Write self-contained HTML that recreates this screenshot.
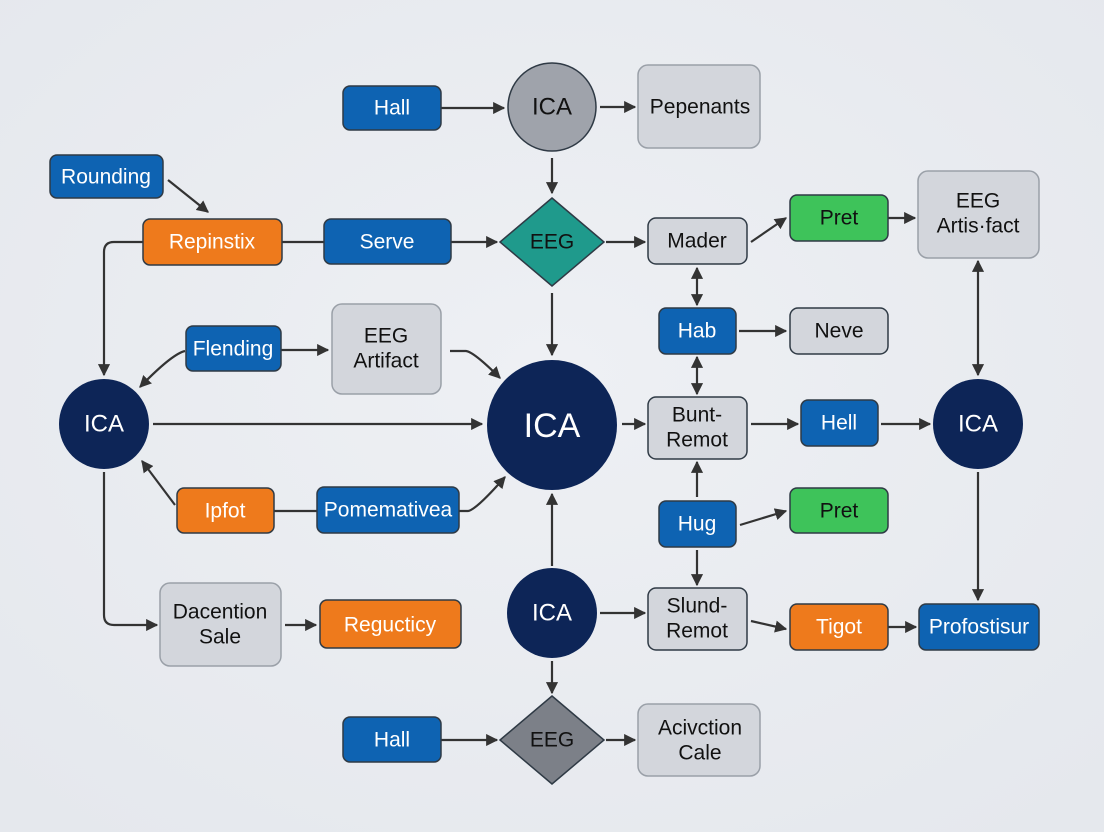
<!DOCTYPE html>
<html><head><meta charset="utf-8"><style>
html,body{margin:0;padding:0;background:#e8ebef;}
svg{display:block}
text{font-family:"Liberation Sans",sans-serif;text-anchor:middle;dominant-baseline:central}
</style></head><body>
<svg width="1104" height="832" viewBox="0 0 1104 832" xmlns="http://www.w3.org/2000/svg">
<defs>
<marker id="a" viewBox="0 0 10 10" refX="9" refY="5" markerWidth="5.5" markerHeight="5.5" orient="auto-start-reverse"><path d="M0,0L10,5L0,10z" fill="#333"/></marker>
<radialGradient id="bg" cx="50%" cy="45%" r="70%"><stop offset="0" stop-color="#eef0f4"/><stop offset="1" stop-color="#e5e8ed"/></radialGradient>
</defs>
<rect width="1104" height="832" fill="url(#bg)"/>
<g stroke="#333" stroke-width="2.2" fill="none">
<line x1="441" y1="108" x2="504" y2="108" marker-end="url(#a)"/>
<line x1="600" y1="107" x2="635" y2="107" marker-end="url(#a)"/>
<line x1="552" y1="158" x2="552" y2="193" marker-end="url(#a)"/>
<line x1="168" y1="180" x2="208" y2="212" marker-end="url(#a)"/>
<line x1="282" y1="242" x2="324" y2="242"/>
<line x1="451" y1="242" x2="497" y2="242" marker-end="url(#a)"/>
<line x1="606" y1="242" x2="645" y2="242" marker-end="url(#a)"/>
<path d="M143,242 H114 Q104,242 104,252 V375" marker-end="url(#a)"/>
<line x1="552" y1="293" x2="552" y2="355" marker-end="url(#a)"/>
<line x1="281" y1="350" x2="328" y2="350" marker-end="url(#a)"/>
<path d="M185,351 Q172,354 140,387" marker-end="url(#a)"/>
<path d="M450,351 H466 Q474,352 500,378" marker-end="url(#a)"/>
<line x1="153" y1="424" x2="482" y2="424" marker-end="url(#a)"/>
<line x1="175" y1="505" x2="142" y2="461" marker-end="url(#a)"/>
<line x1="274" y1="511" x2="317" y2="511"/>
<path d="M459,511 H468 Q476,510 505,477" marker-end="url(#a)"/>
<line x1="552" y1="566" x2="552" y2="494" marker-end="url(#a)"/>
<path d="M104,472 V615 Q104,625 114,625 H157" marker-end="url(#a)"/>
<line x1="285" y1="625" x2="316" y2="625" marker-end="url(#a)"/>
<line x1="600" y1="613" x2="645" y2="613" marker-end="url(#a)"/>
<line x1="552" y1="661" x2="552" y2="693" marker-end="url(#a)"/>
<line x1="441" y1="740" x2="497" y2="740" marker-end="url(#a)"/>
<line x1="606" y1="740" x2="635" y2="740" marker-end="url(#a)"/>
<line x1="751" y1="242" x2="786" y2="218" marker-end="url(#a)"/>
<line x1="888" y1="218" x2="915" y2="218" marker-end="url(#a)"/>
<line x1="697" y1="268" x2="697" y2="305" marker-start="url(#a)" marker-end="url(#a)"/>
<line x1="739" y1="331" x2="786" y2="331" marker-end="url(#a)"/>
<line x1="697" y1="357" x2="697" y2="394" marker-start="url(#a)" marker-end="url(#a)"/>
<line x1="622" y1="424" x2="645" y2="424" marker-end="url(#a)"/>
<line x1="751" y1="424" x2="798" y2="424" marker-end="url(#a)"/>
<line x1="881" y1="424" x2="930" y2="424" marker-end="url(#a)"/>
<line x1="697" y1="497" x2="697" y2="462" marker-end="url(#a)"/>
<line x1="740" y1="525" x2="786" y2="511" marker-end="url(#a)"/>
<line x1="697" y1="550" x2="697" y2="585" marker-end="url(#a)"/>
<line x1="751" y1="621" x2="786" y2="629" marker-end="url(#a)"/>
<line x1="888" y1="627" x2="916" y2="627" marker-end="url(#a)"/>
<line x1="978" y1="261" x2="978" y2="375" marker-start="url(#a)" marker-end="url(#a)"/>
<line x1="978" y1="472" x2="978" y2="600" marker-end="url(#a)"/>
</g>
<g stroke="#2f3a45" stroke-width="1.5">
<g fill="#0e63b2">
<rect x="343" y="86" width="98" height="44" rx="7"/>
<rect x="50" y="155" width="113" height="43" rx="7"/>
<rect x="324" y="219" width="127" height="45" rx="7"/>
<rect x="659" y="308" width="77" height="46" rx="7"/>
<rect x="186" y="326" width="95" height="45" rx="7"/>
<rect x="801" y="400" width="77" height="46" rx="7"/>
<rect x="317" y="487" width="142" height="46" rx="7"/>
<rect x="659" y="501" width="77" height="46" rx="7"/>
<rect x="919" y="604" width="120" height="46" rx="7"/>
<rect x="343" y="717" width="98" height="45" rx="7"/>
</g>
<g fill="#ee7a1c">
<rect x="143" y="219" width="139" height="46" rx="7"/>
<rect x="177" y="488" width="97" height="45" rx="7"/>
<rect x="320" y="600" width="141" height="48" rx="7"/>
<rect x="790" y="604" width="98" height="46" rx="7"/>
</g>
<g fill="#3ec35a">
<rect x="790" y="195" width="98" height="46" rx="7"/>
<rect x="790" y="488" width="98" height="45" rx="7"/>
</g>
<g fill="#d3d6dc">
<rect x="648" y="218" width="99" height="46" rx="8"/>
<rect x="790" y="308" width="98" height="46" rx="8"/>
<rect x="648" y="397" width="99" height="62" rx="8"/>
<rect x="648" y="588" width="99" height="62" rx="8"/>
</g>
<g fill="#d3d6dc" stroke="#9aa0a8">
<rect x="638" y="65" width="122" height="83" rx="10"/>
<rect x="918" y="171" width="121" height="87" rx="10"/>
<rect x="332" y="304" width="109" height="90" rx="10"/>
<rect x="160" y="583" width="121" height="83" rx="10"/>
<rect x="638" y="704" width="122" height="72" rx="10"/>
</g>
<circle cx="552" cy="107" r="44" fill="#9fa3ab"/>
<polygon points="552,198 604,242 552,286 500,242" fill="#1f9a8c"/>
<polygon points="552,696 604,740 552,784 500,740" fill="#7c8088"/>
</g>
<g fill="#0d2557">
<circle cx="104" cy="424" r="45"/>
<circle cx="552" cy="425" r="65"/>
<circle cx="978" cy="424" r="45"/>
<circle cx="552" cy="613" r="45"/>
</g>
<g font-size="21" fill="#fff">
<text x="392" y="108">Hall</text>
<text x="106" y="177">Rounding</text>
<text x="387" y="242">Serve</text>
<text x="697" y="331">Hab</text>
<text x="233" y="349">Flending</text>
<text x="839" y="423">Hell</text>
<text x="388" y="510">Pomemativea</text>
<text x="697" y="524">Hug</text>
<text x="979" y="627">Profostisur</text>
<text x="392" y="740">Hall</text>
<text x="212" y="242">Repinstix</text>
<text x="225" y="511">Ipfot</text>
<text x="390" y="625">Regucticy</text>
<text x="839" y="627">Tigot</text>
<text x="104" y="424" font-size="24">ICA</text>
<text x="552" y="426" font-size="34">ICA</text>
<text x="978" y="424" font-size="24">ICA</text>
<text x="552" y="613" font-size="24">ICA</text>
</g>
<g font-size="21" fill="#111">
<text x="552" y="107" font-size="24">ICA</text>
<text x="700" y="107">Pepenants</text>
<text x="552" y="242">EEG</text>
<text x="552" y="740">EEG</text>
<text x="697" y="241">Mader</text>
<text x="839" y="218">Pret</text>
<text x="839" y="511">Pret</text>
<text x="839" y="331">Neve</text>
<text x="978" y="201">EEG</text>
<text x="978" y="226">Artis·fact</text>
<text x="386" y="336">EEG</text>
<text x="386" y="361">Artifact</text>
<text x="697" y="415">Bunt-</text>
<text x="697" y="440">Remot</text>
<text x="697" y="606">Slund-</text>
<text x="697" y="631">Remot</text>
<text x="220" y="612">Dacention</text>
<text x="220" y="637">Sale</text>
<text x="700" y="728">Acivction</text>
<text x="700" y="753">Cale</text>
</g>
</svg>
</body></html>
